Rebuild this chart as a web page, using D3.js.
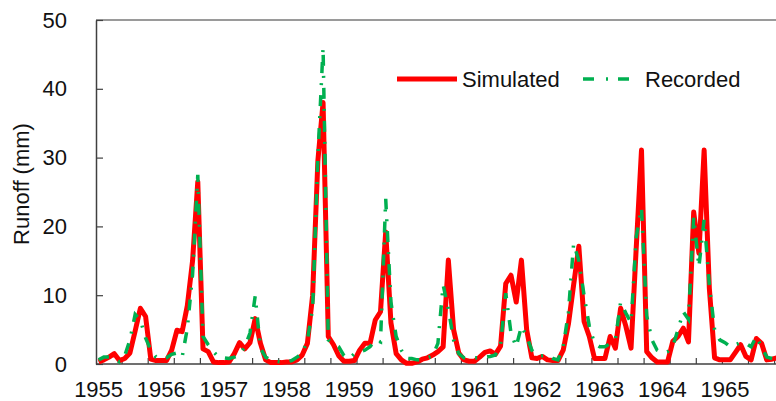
<!DOCTYPE html>
<html>
<head>
<meta charset="utf-8">
<script src="https://cdn.jsdelivr.net/npm/d3@7/dist/d3.min.js"></script>
<style>
  html, body { margin: 0; padding: 0; background: #fff; }
  svg { display: block; font-family: "Liberation Sans", Arial, sans-serif; }
</style>
</head>
<body>
<svg id="chart" width="776" height="401"></svg>
<script>
// monthly runoff (mm), Jan 1955 .. Dec 1965, one row per year
const years = ["1955", "1956", "1957", "1958", "1959", "1960", "1961", "1962", "1963", "1964", "1965"];

const simulated = [
  0.3, 0.6, 1.0, 1.5, 0.5, 0.8, 1.6, 4.8, 8.1, 6.9, 0.7, 0.5,
  0.5, 0.5, 2.0, 4.9, 4.7, 8.5, 15.0, 26.5, 2.2, 1.8, 0.3, 0.2,
  0.2, 0.3, 1.5, 3.1, 2.2, 3.1, 6.6, 3.0, 0.6, 0.2, 0.2, 0.2,
  0.3, 0.3, 0.6, 1.3, 3.0, 10.0, 29.5, 38.0, 4.0, 2.8, 1.2, 0.4,
  0.4, 0.5, 2.0, 3.0, 3.0, 6.4, 7.6, 19.2, 6.0, 1.5, 0.6, 0.1,
  0.1, 0.3, 0.7, 0.9, 1.3, 1.8, 2.5, 15.1, 5.0, 1.6, 0.6, 0.4,
  0.4, 1.0, 1.7, 1.9, 1.4, 2.6, 11.7, 12.9, 9.0, 15.1, 5.0, 0.9,
  0.8, 1.1, 0.6, 0.5, 0.5, 2.0, 5.8, 11.5, 17.1, 6.2, 4.0, 0.8,
  0.8, 0.8, 4.0, 2.3, 8.1, 5.5, 2.3, 17.0, 31.1, 1.8, 0.9, 0.3,
  0.3, 0.3, 3.3, 4.0, 5.2, 3.2, 22.1, 16.1, 31.1, 11.0, 0.9, 0.6,
  0.6, 0.6, 1.7, 2.8, 1.1, 0.6, 3.7, 3.0, 0.6, 0.7, 0.9, 0.9
];

const recorded = [
  0.6, 1.0, 1.0, 0.8, 0.3, 1.2, 3.5, 7.2, 6.4, 3.8, 2.0, 1.0,
  0.8, 0.9, 1.4, 1.6, 1.0, 5.2, 13.0, 27.5, 4.0, 2.8, 1.8, 1.0,
  0.9, 0.8, 1.0, 1.3, 2.5, 4.5, 9.9, 2.3, 1.0, 0.6, 0.4, 0.3,
  0.3, 0.5, 1.0, 1.5, 3.5, 8.0, 30.0, 46.0, 3.5, 3.0, 2.5, 1.2,
  0.8, 1.5, 1.8, 2.0, 2.5, 3.5, 3.2, 24.0, 9.0, 4.0, 2.0, 0.8,
  0.8, 0.6, 0.6, 0.9, 1.2, 3.0, 11.5, 8.0, 3.5, 1.5, 0.9, 0.9,
  0.9, 0.9, 1.0, 1.1, 1.3, 2.8, 10.3, 4.5, 2.5, 5.5, 4.0, 2.0,
  1.2, 1.2, 1.3, 0.8, 0.6, 2.5, 7.5, 17.5, 15.0, 10.0, 5.5, 3.0,
  2.5, 2.5, 3.0, 3.5, 9.0, 7.4, 6.0, 18.5, 22.7, 7.0, 3.5, 2.0,
  1.6, 1.8, 2.6, 5.0, 7.6, 6.5, 21.4, 14.1, 21.0, 11.5, 5.0, 3.5,
  3.1, 2.5, 2.8, 3.1, 3.0, 2.5, 4.0, 2.5, 1.0, 0.8, 0.6, 0.5
];

const yTicks = [0, 10, 20, 30, 40, 50];
const seriesNames = ["Simulated", "Recorded"];

const svg = d3.select("#chart");

const plot = { left: 96, top: 20, bottom: 364, catWidth: 5.22 };
const nCat = simulated.length;
const fontSize = "22px";

// category axis, points sit in the middle of each category
const x = d3.scaleLinear()
  .domain([0, nCat])
  .range([plot.left, plot.left + nCat * plot.catWidth]);

const y = d3.scaleLinear()
  .domain([0, 50])
  .range([plot.bottom, plot.top]);

const axisColor = "#404040";
const textColor = "#111";

// top border of plot area
svg.append("line")
  .attr("x1", plot.left).attr("x2", 776)
  .attr("y1", plot.top).attr("y2", plot.top)
  .attr("stroke", "#9a9a9a").attr("stroke-width", 2);

// y axis
const yAxis = d3.axisLeft(y)
  .tickValues(yTicks)
  .tickSizeInner(-7)
  .tickSizeOuter(0)
  .tickPadding(29);

svg.append("g")
  .attr("transform", `translate(${plot.left},0)`)
  .call(yAxis)
  .call(g => g.select(".domain").attr("stroke", axisColor).attr("stroke-width", 1.5))
  .call(g => g.selectAll(".tick line").attr("stroke", axisColor).attr("stroke-width", 1.2))
  .call(g => g.selectAll(".tick text")
    .attr("fill", textColor)
    .style("font-size", fontSize)
    .style("font-family", "'Liberation Sans', Arial, sans-serif"));

svg.append("text")
  .attr("transform", "translate(29,184) rotate(-90)")
  .attr("text-anchor", "middle")
  .attr("fill", textColor)
  .style("font-size", fontSize)
  .text("Runoff (mm)");

// x axis: tick marks every 5 categories, year labels every 12
svg.append("line")
  .attr("x1", plot.left).attr("x2", 776)
  .attr("y1", plot.bottom).attr("y2", plot.bottom)
  .attr("stroke", axisColor).attr("stroke-width", 1.5);

svg.append("g")
  .selectAll("line")
  .data(d3.range(5, nCat, 5))
  .join("line")
  .attr("x1", d => x(d)).attr("x2", d => x(d))
  .attr("y1", plot.bottom).attr("y2", plot.bottom - 6)
  .attr("stroke", axisColor).attr("stroke-width", 1.2);

svg.append("g")
  .selectAll("text")
  .data(years)
  .join("text")
  .attr("x", (d, i) => x(i * 12 + 0.5))
  .attr("y", 397)
  .attr("text-anchor", "middle")
  .attr("fill", textColor)
  .style("font-size", fontSize)
  .text(d => d);

// series
const line = d3.line()
  .x((d, i) => x(i + 0.5))
  .y(d => y(d));

svg.append("path")
  .datum(simulated)
  .attr("d", line)
  .attr("fill", "none")
  .attr("stroke", "#ff0000")
  .attr("stroke-width", 5)
  .attr("stroke-linejoin", "round");

svg.append("path")
  .datum(recorded)
  .attr("d", line)
  .attr("fill", "none")
  .attr("stroke", "#00b050")
  .attr("stroke-width", 3.5)
  .attr("stroke-dasharray", "11,10,2,10");

// legend
const legend = svg.append("g");

legend.append("line")
  .attr("x1", 397).attr("x2", 457)
  .attr("y1", 79).attr("y2", 79)
  .attr("stroke", "#ff0000").attr("stroke-width", 5);

legend.append("text")
  .attr("x", 462).attr("y", 87)
  .attr("fill", textColor)
  .style("font-size", fontSize)
  .text(seriesNames[0]);

legend.append("line")
  .attr("x1", 583).attr("x2", 629)
  .attr("y1", 79).attr("y2", 79)
  .attr("stroke", "#00b050").attr("stroke-width", 3.5)
  .attr("stroke-dasharray", "11,12,2,10");

legend.append("text")
  .attr("x", 645).attr("y", 87)
  .attr("fill", textColor)
  .style("font-size", fontSize)
  .text(seriesNames[1]);
</script>
</body>
</html>
